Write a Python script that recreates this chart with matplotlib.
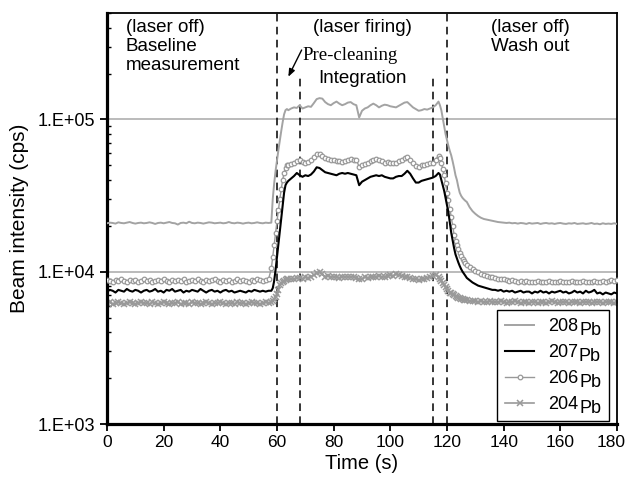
import numpy as np
import matplotlib
matplotlib.use("Agg")
import matplotlib.pyplot as plt
import matplotlib.transforms as mtransforms
from matplotlib.ticker import LogLocator, FuncFormatter, NullFormatter

plt.rcParams['font.family'] = ['Liberation Sans', 'DejaVu Sans']

# time axis (s): 1 s steps, half-second steps through the rise and the wash-out
t_base = np.arange(0, 58)
t_rise = np.arange(58, 64, 0.5)
t_plat = np.arange(64, 117)
t_fall = np.arange(117, 127, 0.5)
t_tail = np.arange(127, 181)

# beam intensities in thousands of cps
pb208_base = [20.8, 21.0, 20.9, 20.7, 21.1, 20.9, 20.8, 21.0, 21.2, 20.9,
              20.7, 20.9, 21.0, 20.8, 20.9, 21.1, 20.9, 20.6, 20.9, 21.0,
              20.8, 21.0, 21.2, 20.9, 20.8, 20.4, 20.9, 21.0, 20.8, 21.3,
              20.9, 20.8, 21.0, 20.9, 20.7, 20.9, 21.1, 21.0, 20.8, 20.9,
              21.0, 20.8, 20.9, 21.2, 20.9, 20.8, 21.0, 20.9, 20.7, 20.9,
              21.0, 20.8, 20.9, 21.1, 20.9, 20.8, 21.0, 20.9]
pb208_rise = [21.0, 30, 38, 46, 54, 63, 73, 84, 96, 108, 115, 117]
pb208_plat = [115, 118, 120, 119, 124, 118, 120, 122, 121, 128,
              136, 138, 137, 130, 126, 124, 128, 131, 127, 124,
              126, 129, 130, 126, 124, 103, 114, 118, 120, 124,
              127, 124, 120, 123, 125, 124, 122, 121, 120, 123,
              126, 129, 130, 125, 120, 117, 114, 115, 117, 116,
              118, 120, 124]
pb208_fall = [131, 124, 115, 102, 90, 80, 73, 67, 62, 58,
              53, 48, 43, 40, 36, 33, 31.5, 30.5, 29.8, 29.2]
pb208_tail = [28.7, 26.5, 25.0, 24.0, 23.2, 22.6, 22.2, 22.0, 21.8, 21.6,
              21.4, 21.2, 21.1, 21.0, 20.9, 21.0, 20.8, 20.9, 20.7, 20.9,
              20.8, 20.6, 20.9, 20.7, 20.8, 20.9, 20.6, 20.8, 20.9, 20.7,
              20.8, 20.6, 20.8, 20.9, 20.7, 20.6, 20.8, 20.7, 20.9, 20.6,
              20.7, 20.8, 20.6, 20.7, 20.9, 20.6, 20.7, 20.5, 20.8, 20.6,
              20.7, 20.6, 20.8, 20.6]

pb207_base = [7.4, 7.6, 7.5, 7.3, 7.6, 7.5, 7.4, 7.7, 7.5, 7.4,
              7.6, 7.5, 7.3, 7.5, 7.6, 7.4, 7.5, 7.7, 7.4, 7.5,
              7.3, 7.6, 7.5, 7.7, 7.4, 7.5, 7.6, 7.3, 7.5, 7.4,
              7.6, 7.5, 7.4, 7.7, 7.5, 7.3, 7.5, 7.6, 7.4, 7.5,
              7.3, 7.5, 7.6, 7.4, 7.5, 7.3, 7.4, 7.5, 7.4, 7.3,
              7.5, 7.4, 7.6, 7.5, 7.4, 7.5, 7.4, 7.5]
pb207_rise = [7.5, 7.8, 8.7, 10.3, 12.5, 15.2, 18.5, 22.5, 27.5, 33, 37, 38.5]
pb207_plat = [39.5, 41.0, 42.5, 44.5, 43.0, 42.0, 43.0, 42.5, 43.5, 45.5,
              48.5, 48.0, 46.5, 45.0, 44.5, 44.0, 43.5, 43.0, 44.0, 44.5,
              44.0, 44.5, 44.0, 43.5, 43.0, 37.0, 39.0, 40.0, 41.0, 42.0,
              42.5, 43.0, 42.5, 43.0, 42.0, 41.5, 41.0, 41.0, 42.0, 42.5,
              42.5, 44.0, 46.0, 44.0, 41.0, 38.5, 38.5, 39.5, 40.0, 40.5,
              41.0, 41.5, 42.5]
pb207_fall = [44.5, 43.5, 40, 37, 34, 30.5, 27.5, 24.5, 21, 18,
              16, 14.3, 13, 12.2, 11.5, 10.9, 10.4, 10.0, 9.7, 9.4]
pb207_tail = [9.1, 8.8, 8.5, 8.3, 8.1, 8.0, 7.9, 7.8, 7.7, 7.6,
              7.6, 7.5, 7.6, 7.4, 7.5, 7.4, 7.5, 7.3, 7.4, 7.5,
              7.3, 7.4, 7.4, 7.2, 7.4, 7.3, 7.5, 7.3, 7.4, 7.2,
              7.4, 7.3, 7.4, 7.5, 7.3, 7.4, 7.2, 7.3, 7.5, 7.3,
              7.4, 7.2, 7.5, 7.3, 7.4, 7.6, 7.2, 7.3, 7.1, 7.3,
              7.2, 7.1, 7.3, 7.2]

pb206_base = [8.8, 8.7, 8.6, 8.8, 8.7, 8.9, 8.7, 8.6, 8.8, 8.7,
              8.8, 8.6, 8.7, 8.9, 8.7, 8.8, 8.6, 8.7, 8.8, 8.7,
              8.9, 8.7, 8.6, 8.8, 8.7, 8.8, 8.7, 8.9, 8.6, 8.7,
              8.8, 8.7, 8.9, 8.7, 8.6, 8.8, 8.7, 8.8, 8.9, 8.7,
              8.6, 8.8, 8.7, 8.8, 8.6, 8.7, 8.9, 8.7, 8.8, 8.7,
              8.6, 8.8, 8.7, 8.9, 8.8, 8.7, 8.8, 8.9]
pb206_rise = [10.5, 12.5, 15.0, 18.0, 21.5, 25.5, 30, 35, 40, 44.5, 48, 50]
pb206_plat = [50.5, 51.0, 52.0, 53.0, 54.0, 52.5, 51.5, 52.5, 54.0, 56.5,
              59.0, 59.5, 57.5, 55.5, 55.0, 54.0, 54.5, 53.5, 53.0, 52.5,
              53.5, 54.5, 55.0, 54.5, 54.0, 49.0, 50.0, 51.0, 52.0, 53.0,
              54.0, 55.0, 54.0, 53.0, 52.0, 52.5, 52.0, 51.5, 52.0, 53.0,
              54.5, 56.0, 56.5, 54.5, 51.5, 49.5, 49.0, 50.0, 50.5, 51.0,
              51.5, 52.0, 54.5]
pb206_fall = [57.5, 56, 52, 47, 43, 38, 33, 29.5, 26, 23,
              20, 17.5, 16, 15, 14, 13.3, 12.7, 12.2, 11.8, 11.4]
pb206_tail = [11.0, 10.7, 10.4, 10.1, 9.9, 9.7, 9.5, 9.4, 9.3, 9.2,
              9.1, 9.0, 8.9, 8.9, 8.8, 8.7, 8.8, 8.7, 8.6, 8.7,
              8.6, 8.7, 8.6, 8.5, 8.6, 8.7, 8.6, 8.5, 8.6, 8.7,
              8.6, 8.5, 8.6, 8.7, 8.6, 8.5, 8.6, 8.7, 8.6, 8.5,
              8.6, 8.7, 8.6, 8.5, 8.6, 8.7, 8.6, 8.5, 8.7, 8.6,
              8.7, 8.8, 8.7, 8.8]

pb204_base = [6.2, 6.3, 6.1, 6.2, 6.3, 6.2, 6.1, 6.2, 6.3, 6.2,
              6.1, 6.2, 6.3, 6.2, 6.2, 6.1, 6.3, 6.2, 6.1, 6.2,
              6.3, 6.2, 6.1, 6.2, 6.2, 6.3, 6.1, 6.2, 6.2, 6.1,
              6.3, 6.2, 6.2, 6.1, 6.2, 6.3, 6.2, 6.1, 6.2, 6.2,
              6.3, 6.2, 6.1, 6.2, 6.2, 6.1, 6.3, 6.2, 6.2, 6.1,
              6.2, 6.3, 6.2, 6.2, 6.1, 6.2, 6.3, 6.2]
pb204_rise = [6.3, 6.4, 6.6, 6.8, 7.1, 7.6, 8.2, 8.4, 8.6, 8.7, 8.8, 8.9]
pb204_plat = [8.9, 9.0, 8.9, 9.1, 9.1, 9.0, 9.2, 9.1, 9.3, 9.5,
              9.8, 9.9, 9.6, 9.3, 9.4, 9.2, 9.3, 9.2, 9.1, 9.3,
              9.2, 9.3, 9.2, 9.3, 9.1, 8.9, 9.0, 9.2, 9.1, 9.3,
              9.2, 9.3, 9.4, 9.2, 9.3, 9.4, 9.5, 9.4, 9.6, 9.5,
              9.4, 9.3, 9.2, 9.1, 9.0, 8.9, 8.8, 8.9, 9.0, 9.1,
              9.2, 9.4, 9.5]
pb204_fall = [9.3, 9.0, 8.7, 8.4, 8.2, 7.9, 7.7, 7.5, 7.3, 7.2,
              7.1, 7.0, 6.9, 6.8, 6.75, 6.7, 6.6, 6.6, 6.55, 6.5]
pb204_tail = [6.5, 6.45, 6.4, 6.4, 6.35, 6.4, 6.3, 6.35, 6.4, 6.3,
              6.35, 6.3, 6.4, 6.3, 6.25, 6.35, 6.3, 6.4, 6.3, 6.2,
              6.35, 6.3, 6.25, 6.35, 6.3, 6.2, 6.3, 6.35, 6.25, 6.3,
              6.4, 6.3, 6.25, 6.3, 6.35, 6.3, 6.2, 6.3, 6.35, 6.3,
              6.25, 6.3, 6.35, 6.3, 6.2, 6.3, 6.35, 6.3, 6.25, 6.3,
              6.35, 6.3, 6.25, 6.3]

time = np.concatenate([t_base, t_rise, t_plat, t_fall, t_tail])
pb208 = np.array(pb208_base + pb208_rise + pb208_plat + pb208_fall + pb208_tail) * 1000
pb207 = np.array(pb207_base + pb207_rise + pb207_plat + pb207_fall + pb207_tail) * 1000
pb206 = np.array(pb206_base + pb206_rise + pb206_plat + pb206_fall + pb206_tail) * 1000
pb204 = np.array(pb204_base + pb204_rise + pb204_plat + pb204_fall + pb204_tail) * 1000

full_lines = [60, 120]
short_lines = [68, 115]
isotopes = ["208", "207", "206", "204"]

W, H = 628, 486
fig = plt.figure(figsize=(W / 100, H / 100), dpi=100)
ax = fig.add_axes([107 / W, 1 - 424 / H, 510 / W, 411 / H])

gray = "#a3a3a3"
mgray = "#999999"

ax.yaxis.grid(True, which="major", color="#a8a8a8", lw=1.1, zorder=0)
ax.set_axisbelow(True)

for x in full_lines:
    ax.axvline(x, color="black", lw=1.1, ls=(0, (5, 3.5)), zorder=1)
for x in short_lines:
    ax.axvline(x, ymax=0.845, color="black", lw=1.1, ls=(0, (5, 3.5)), zorder=1)

l204, = ax.plot(time, pb204, color=mgray, lw=1.2, marker="x", ms=4.2, mew=1.1, zorder=2)
l206, = ax.plot(time, pb206, color=mgray, lw=1.0, marker="o", ms=3.3, mew=0.9,
                mfc="white", mec=mgray, zorder=3)
l207, = ax.plot(time, pb207, color="black", lw=1.5, zorder=4)
l208, = ax.plot(time, pb208, color=gray, lw=1.4, zorder=5)

ax.set_yscale("log")
ax.set_xlim(0, 180)
ax.set_ylim(1e3, 5e5)
ax.set_xticks(np.arange(0, 181, 20))
ax.set_yticks([1e3, 1e4, 1e5])
ax.yaxis.set_major_formatter(FuncFormatter(lambda v, p: "1.E+%02d" % round(np.log10(v))))
ax.yaxis.set_minor_locator(LogLocator(base=10, subs=np.arange(2, 10)))
ax.yaxis.set_minor_formatter(NullFormatter())

ax.tick_params(axis="both", which="major", direction="out",
               length=5, width=1.3, color="black")
ax.tick_params(axis="y", which="major", labelsize=13)
ax.tick_params(axis="x", which="major", labelsize=12.5, pad=3)
ax.tick_params(axis="y", which="minor", direction="in", length=3, width=1.0)

for side in ["left", "bottom"]:
    ax.spines[side].set_linewidth(2.3)
for side in ["top", "right"]:
    ax.spines[side].set_linewidth(1.3)

ax.set_xlabel("Time (s)", fontsize=14.5, labelpad=3)
ax.set_ylabel("Beam intensity (cps)", fontsize=15, labelpad=6)

txt = dict(fontsize=13.5, va="top", linespacing=1.15,
           transform=ax.get_xaxis_transform())
ax.text(6.7, 0.985, "(laser off)\nBaseline\nmeasurement", ha="left", **txt)
ax.text(90.2, 0.985, "(laser firing)", ha="center", **txt)
ax.text(90.2, 0.862, "Integration", ha="center", **txt)
ax.text(149.3, 0.985, "(laser off)\nWash out", ha="center", **txt)
ax.text(85.7, 0.917, "Pre-cleaning", ha="center", fontsize=13.5, va="top",
        family=["Liberation Serif", "DejaVu Serif"], transform=ax.get_xaxis_transform())
ax.annotate("", xy=(64.0, 0.845), xytext=(68.7, 0.91),
            xycoords=ax.get_xaxis_transform(), textcoords=ax.get_xaxis_transform(),
            arrowprops=dict(arrowstyle="-|>,head_length=0.45,head_width=0.18",
                            color="black", lw=1.0, shrinkA=0, shrinkB=0))

fs_leg = 13
leg = ax.legend([l208, l207, l206, l204], [s + "Pb" for s in isotopes],
                loc="lower right", bbox_to_anchor=(0.984, 0.007),
                fontsize=fs_leg, frameon=True, fancybox=False, framealpha=1,
                edgecolor="black", handlelength=1.6, handletextpad=0.8,
                labelspacing=0.5, borderpad=0.45, borderaxespad=0, numpoints=1)
leg.get_frame().set_linewidth(1.0)
leg.set_zorder(10)

fig.canvas.draw()
renderer = fig.canvas.get_renderer()

# nudge the last x tick label so it stays inside the picture
last = ax.get_xticklabels()[-1]
last.set_transform(last.get_transform() + mtransforms.ScaledTranslation(-4 / 72, 0, fig.dpi_scale_trans))

# legend labels: mass number, then "Pb" set a bit lower
for t, s in zip(leg.get_texts(), isotopes):
    ext = t.get_window_extent(renderer)
    t.set_visible(False)
    num = fig.text(ext.x0 / W, ext.y0 / H, s, fontsize=fs_leg, ha="left", va="bottom", zorder=11)
    w = num.get_window_extent(renderer).width
    fig.text((ext.x0 + w + 0.5) / W, (ext.y0 - 4) / H, "Pb", fontsize=fs_leg,
             ha="left", va="bottom", zorder=11)

fig.savefig("out.png", dpi=100)
